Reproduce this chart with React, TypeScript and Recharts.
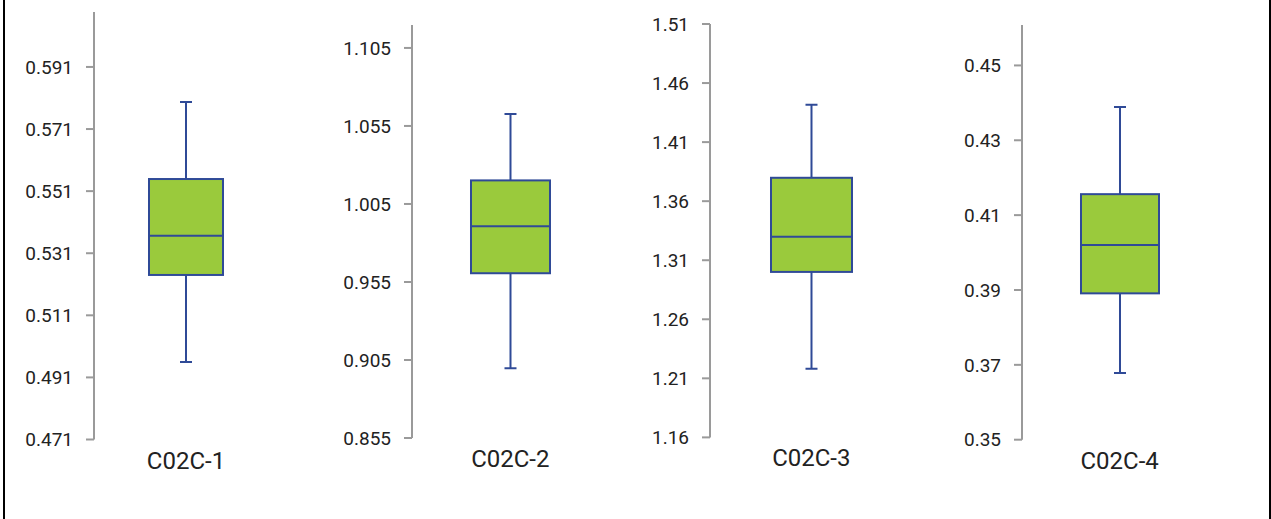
import React from "react";
import { ComposedChart, Bar, XAxis, YAxis } from "recharts";

// ---- data ----
const categories = ["C02C-1", "C02C-2", "C02C-3", "C02C-4"];
const mins = [0.496, 0.8997, 1.2181, 0.3678];
const q1s = [0.524, 0.9606, 1.3001, 0.3891];
const medians = [0.5366, 0.9907, 1.3298, 0.402];
const q3s = [0.5549, 1.0201, 1.3798, 0.4156];
const maxs = [0.5797, 1.0627, 1.4416, 0.4389];
const axisMins = [0.471, 0.855, 1.16, 0.35];
const axisMaxs = [0.6087, 1.1197, 1.51, 0.4608];
const ticks1 = [0.471, 0.491, 0.511, 0.531, 0.551, 0.571, 0.591];
const ticks2 = [0.855, 0.905, 0.955, 1.005, 1.055, 1.105];
const ticks3 = [1.16, 1.21, 1.26, 1.31, 1.36, 1.41, 1.46, 1.51];
const ticks4 = [0.35, 0.37, 0.39, 0.41, 0.43, 0.45];
const tickSets = [ticks1, ticks2, ticks3, ticks4];
const tickDecimals = [3, 3, 2, 2];

// ---- layout ----
const layout = [
  { axisX: 94, plotTop: 12, plotBottom: 439.5, plotRight: 278, barSize: 74 },
  { axisX: 412, plotTop: 25, plotBottom: 438, plotRight: 608.6, barSize: 79 },
  { axisX: 709.7, plotTop: 24.3, plotBottom: 437.7, plotRight: 912.3, barSize: 81 },
  { axisX: 1021.7, plotTop: 25, plotBottom: 439.7, plotRight: 1217, barSize: 78 },
];

const Y_W = 90;
const M_TOP = 12;
const M_RIGHT = 5;
const X_H = 60;
const FILL = "#9ACA3C";
const STROKE = "#2F4A97";
const AXIS = "#9a9a9a";
const TEXT = "#222222";
const FONT = "Roboto, 'Noto Sans', sans-serif";

const BoxShape = (props: any) => {
  const { x, y, width, height, payload } = props;
  const top = Math.min(y, y + height);
  const h = Math.abs(height);
  const lo = payload.min;
  const hi = payload.max;
  const py = (v: number) => top + ((hi - v) / (hi - lo)) * h;
  const cx = x + width / 2;
  const yMax = py(hi);
  const yQ3 = py(payload.q3);
  const yMed = py(payload.median);
  const yQ1 = py(payload.q1);
  const yMin = py(lo);
  const cap = 6;
  return (
    <g>
      <line x1={cx} x2={cx} y1={yMax} y2={yQ3} stroke={STROKE} strokeWidth={2} />
      <line x1={cx} x2={cx} y1={yQ1} y2={yMin} stroke={STROKE} strokeWidth={2} />
      <line x1={cx - cap} x2={cx + cap} y1={yMax} y2={yMax} stroke={STROKE} strokeWidth={2} />
      <line x1={cx - cap} x2={cx + cap} y1={yMin} y2={yMin} stroke={STROKE} strokeWidth={2} />
      <rect x={x} y={yQ3} width={width} height={yQ1 - yQ3} fill={FILL} stroke={STROKE} strokeWidth={2} />
      <line x1={x} x2={x + width} y1={yMed} y2={yMed} stroke={STROKE} strokeWidth={2} />
    </g>
  );
};

const Panel = ({ i }: { i: number }) => {
  const L = layout[i];
  const plotW = L.plotRight - L.axisX;
  const plotH = L.plotBottom - L.plotTop;
  const width = Y_W + plotW + M_RIGHT;
  const height = M_TOP + plotH + X_H;
  const data = [
    {
      name: categories[i],
      range: [mins[i], maxs[i]],
      min: mins[i],
      q1: q1s[i],
      median: medians[i],
      q3: q3s[i],
      max: maxs[i],
    },
  ];
  const dec = tickDecimals[i];
  return (
    <div style={{ position: "absolute", left: L.axisX - Y_W, top: L.plotTop - M_TOP }}>
      <ComposedChart
        width={width}
        height={height}
        data={data}
        margin={{ top: M_TOP, right: M_RIGHT, left: 0, bottom: 0 }}
      >
        <XAxis
          dataKey="name"
          type="category"
          axisLine={false}
          tickLine={false}
          tickSize={0}
          tickMargin={12}
          height={X_H}
          interval={0}
          tick={{ fill: TEXT, fontSize: 24, fontFamily: FONT }}
        />
        <YAxis
          type="number"
          width={Y_W}
          domain={[axisMins[i], axisMaxs[i]]}
          ticks={tickSets[i]}
          interval={0}
          allowDataOverflow
          tickFormatter={(v: number) => v.toFixed(dec)}
          axisLine={{ stroke: AXIS, strokeWidth: 2 }}
          tickLine={{ stroke: AXIS, strokeWidth: 2 }}
          tickSize={8}
          tickMargin={13}
          tick={{ fill: TEXT, fontSize: 19, fontFamily: FONT }}
        />
        <Bar dataKey="range" barSize={L.barSize} shape={<BoxShape />} isAnimationActive={false} />
      </ComposedChart>
    </div>
  );
}

export default function App() {
  return (
    <div
      style={{
        position: "absolute",
        left: 0,
        top: 0,
        width: 1271,
        height: 519,
        background: "#ffffff",
        overflow: "hidden",
      }}
    >
      <div style={{ position: "absolute", left: 3, top: 0, width: 2, height: 519, background: "#000" }} />
      <div style={{ position: "absolute", left: 1269, top: 0, width: 2, height: 519, background: "#000" }} />
      {categories.map((_, i) => (
        <Panel key={i} i={i} />
      ))}
    </div>
  );
}
